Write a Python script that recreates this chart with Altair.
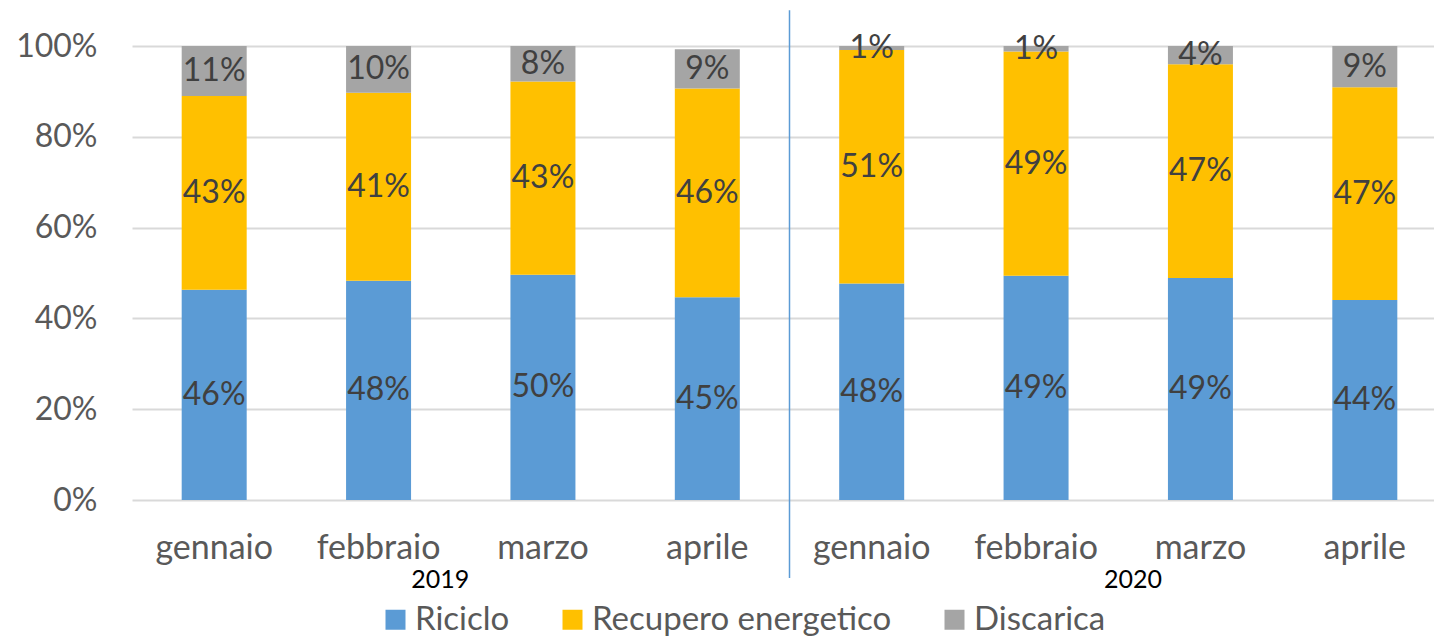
import altair as alt
import pandas as pd

months = ["gennaio", "febbraio", "marzo", "aprile"]
years = ["2019", "2020"]
series = ["Riciclo", "Recupero energetico", "Discarica"]
colors = ["#5B9BD5", "#FFC000", "#A5A5A5"]
riciclo = [0.463, 0.483, 0.496, 0.4465, 0.477, 0.494, 0.489, 0.4405]
recupero = [0.427, 0.414, 0.426, 0.460, 0.514, 0.494, 0.471, 0.4685]
discarica = [0.110, 0.103, 0.078, 0.0866, 0.009, 0.012, 0.040, 0.091]
y_ticks = [0, 0.2, 0.4, 0.6, 0.8, 1.0]

keys = [f"{m} {y}" for y in years for m in months]
rows = []
for i, k in enumerate(keys):
    for j, (s, vals) in enumerate(zip(series, [riciclo, recupero, discarica])):
        rows.append({"key": k, "serie": s, "ord": j, "value": vals[i]})
df = pd.DataFrame(rows)

FONT = "Lato"
xscale = alt.Scale(domain=keys, paddingInner=0, paddingOuter=0, range=[0, 1315])
yscale = alt.Scale(domain=[0, 1])

base = alt.Chart(df).transform_stack(
    stack="value", groupby=["key"], as_=["v0", "v1"], sort=[alt.SortField("ord")]
).transform_calculate(mid="(datum.v0 + datum.v1) / 2")

bars = base.mark_bar(size=65).encode(
    x=alt.X("key:N", scale=xscale, sort=keys,
            axis=alt.Axis(title=None, labelExpr="split(datum.label, ' ')[0]",
                          labelAngle=0, labelFont=FONT, labelFontSize=34,
                          labelColor="#595959", labelPadding=31, ticks=False,
                          domain=False, grid=False)),
    y=alt.Y("v0:Q", scale=yscale,
            axis=alt.Axis(title=None, values=y_ticks, format=".0%", labelFont=FONT,
                          labelFontSize=32, labelColor="#595959", labelPadding=35,
                          ticks=False, domain=False, gridColor="#D9D9D9",
                          gridWidth=2)),
    y2="v1:Q",
    color=alt.Color("serie:N", scale=alt.Scale(domain=series, range=colors),
                    legend=alt.Legend(title=None, orient="none", direction="horizontal",
                                      legendX=247, legendY=557, symbolType="square",
                                      symbolSize=400, symbolStrokeWidth=0,
                                      labelFont=FONT, labelFontSize=33, labelLimit=0,
                                      labelColor="#595959", labelOffset=3,
                                      columnPadding=46, padding=0)),
)

labels = base.mark_text(font=FONT, fontSize=32, color="#404040", baseline="middle").encode(
    x=alt.X("key:N", scale=xscale, sort=keys),
    y=alt.Y("mid:Q", scale=yscale),
    text=alt.Text("value:Q", format=".0%"),
)

y2019 = alt.Chart(pd.DataFrame([{"key": "febbraio 2019", "label": "2019"}])).mark_text(
    font=FONT, fontSize=25, color="#000000", baseline="alphabetic"
).encode(
    x=alt.X("key:N", scale=xscale, sort=keys, bandPosition=0.875),
    y=alt.YDatum(-0.194, scale=yscale),
    text="label:N",
)
y2020 = alt.Chart(pd.DataFrame([{"key": "marzo 2020", "label": "2020"}])).mark_text(
    font=FONT, fontSize=25, color="#000000", baseline="alphabetic"
).encode(
    x=alt.X("key:N", scale=xscale, sort=keys, bandPosition=0.089),
    y=alt.YDatum(-0.194, scale=yscale),
    text="label:N",
)

divider = alt.Chart(pd.DataFrame([{"key": "gennaio 2020"}])).mark_rule(
    color="#5B9BD5", strokeWidth=1.5
).encode(
    x=alt.X("key:N", scale=xscale, sort=keys, bandPosition=0),
    y=alt.YDatum(1.079, scale=yscale),
    y2=alt.Y2Datum(-0.172),
)

chart = alt.layer(bars, labels, y2019, y2020, divider).properties(
    width=1302, height=454,
    autosize=alt.AutoSizeParams(type="none"),
    padding={"left": 124, "top": 38, "right": 0, "bottom": 136},
    background="#FFFFFF",
).configure_view(stroke=None)

chart.save("out.html", embed_options={"renderer": "svg", "actions": False})
